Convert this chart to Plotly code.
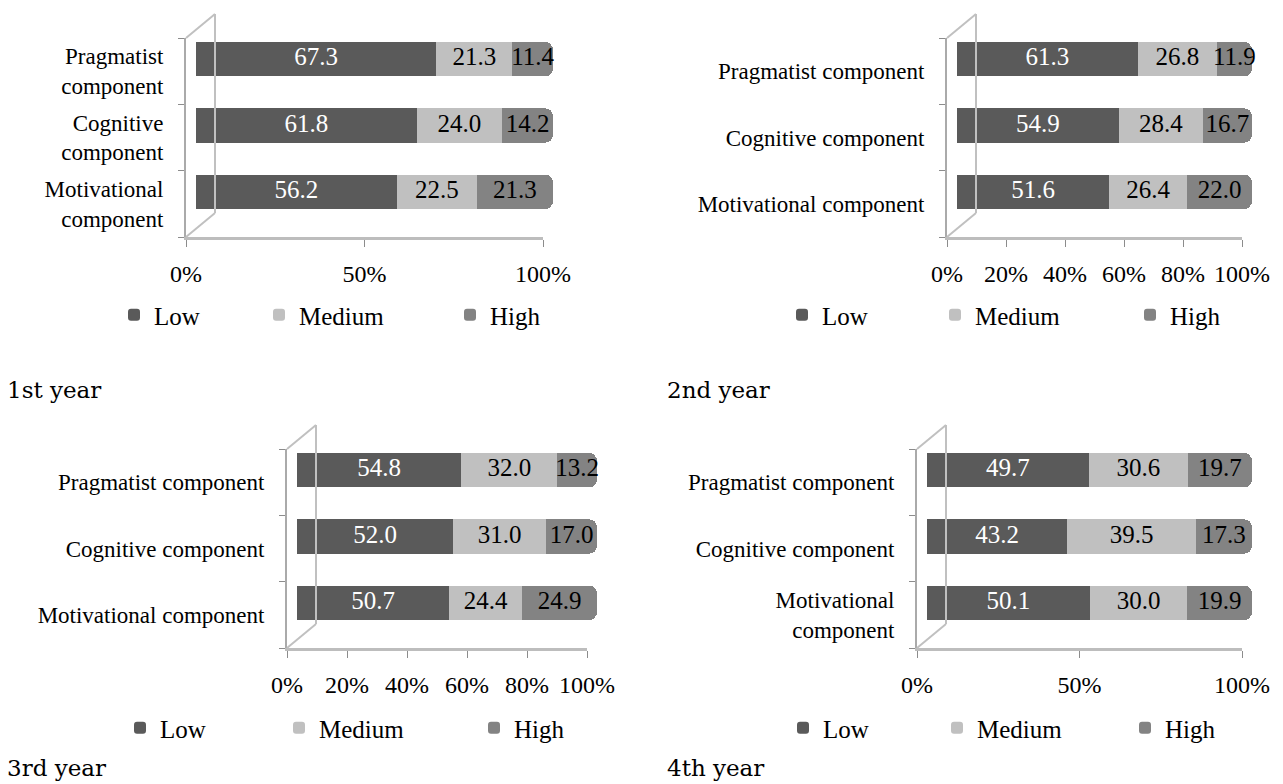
import plotly.graph_objects as go

# the page body adds an 8px margin, so the figure is drawn 8px smaller and
# every reference pixel position is converted with that offset
OFF = 8
W, H = 1283 - OFF, 784 - OFF


def px_x(x):
    return (x - OFF) / W


def px_y(y):
    return 1 - (y - OFF) / H


categories = ["Motivational component", "Cognitive component", "Pragmatist component"]
series_names = ["Low", "Medium", "High"]

year1_low = [56.2, 61.8, 67.3]
year1_medium = [22.5, 24.0, 21.3]
year1_high = [21.3, 14.2, 11.4]

year2_low = [51.6, 54.9, 61.3]
year2_medium = [26.4, 28.4, 26.8]
year2_high = [22.0, 16.7, 11.9]

year3_low = [50.7, 52.0, 54.8]
year3_medium = [24.4, 31.0, 32.0]
year3_high = [24.9, 17.0, 13.2]

year4_low = [50.1, 43.2, 49.7]
year4_medium = [30.0, 39.5, 30.6]
year4_high = [19.9, 17.3, 19.7]

titles = ["1st year", "2nd year", "3rd year", "4th year"]

labels_p1 = ["Motivational<br>component", "Cognitive<br>component", "Pragmatist<br>component"]
labels_p2 = ["Motivational component", "Cognitive component", "Pragmatist component"]
labels_p3 = ["Motivational component", "Cognitive component", "Pragmatist component"]
labels_p4 = ["Motivational<br>component", "Cognitive component", "Pragmatist component"]

ticks_p1 = [0, 50, 100]
ticks_p2 = [0, 20, 40, 60, 80, 100]
ticks_p3 = [0, 20, 40, 60, 80, 100]
ticks_p4 = [0, 50, 100]

colors = ["#5a5a5a", "#c0c0c0", "#838383"]
text_colors = ["white", "black", "black"]

SERIF = "Liberation Serif"
FS_CAT = 23
FS_TICK = 24
FS_VAL = 25
FS_LEG = 25

# panel geometry in reference pixels: (x0%, x100%), (ytop, ybottom)
panels = [
    dict(px=(186, 543), py=(38, 237), data=(year1_low, year1_medium, year1_high),
         labels=labels_p1, ticks=ticks_p1, title_pos=(5, 390), legend_y=315,
         legend_x=114, lw=(100, 146, 60)),
    dict(px=(947, 1242), py=(38, 237), data=(year2_low, year2_medium, year2_high),
         labels=labels_p2, ticks=ticks_p2, title_pos=(665, 390), legend_y=315,
         legend_x=782, lw=(108, 150, 60)),
    dict(px=(287, 587), py=(449, 648), data=(year3_low, year3_medium, year3_high),
         labels=labels_p3, ticks=ticks_p3, title_pos=(5, 768), legend_y=728,
         legend_x=120, lw=(114, 150, 60)),
    dict(px=(917, 1242), py=(449, 648), data=(year4_low, year4_medium, year4_high),
         labels=labels_p4, ticks=ticks_p4, title_pos=(665, 768), legend_y=728,
         legend_x=783, lw=(109, 143, 60)),
]

DX, DY = 10, 12            # 3-D depth offset of the bars (px)
WALL_DX, WALL_DY = 29, 24  # depth of the back wall (px)
BAR_W = 0.52

fig = go.Figure()
layout = dict(
    template="none",
    width=W, height=H, margin=dict(l=0, r=0, t=0, b=0, autoexpand=False),
    paper_bgcolor="white", plot_bgcolor="rgba(0,0,0,0)",
    barmode="stack", barcornerradius=8,
    font=dict(family=SERIF, size=FS_CAT, color="black"),
)
shapes = []
annotations = []

for i, p in enumerate(panels):
    n = i + 1
    x0p, x100p = p["px"]
    ytp, ybp = p["py"]
    wpx = x100p - x0p
    hpx = ybp - ytp
    xdom = [px_x(x0p), px_x(x100p)]
    ydom = [px_y(ybp), px_y(ytp)]
    bxdom = [px_x(x0p + DX), px_x(x100p + DX)]
    bydom = [px_y(ybp - DY), px_y(ytp - DY)]
    sfx = "" if n == 1 else str(n)
    bs = str(n + 4)
    leg = "legend" if n == 1 else f"legend{n}"

    # visible floor axes (carry ticks and labels)
    layout[f"xaxis{sfx}"] = dict(
        domain=xdom, anchor=f"y{sfx}", range=[0, 100], automargin=False,
        tickmode="array", tickvals=p["ticks"], ticktext=[f"{t}%" for t in p["ticks"]],
        showline=True, linecolor="#bdbdbd", linewidth=3,
        ticks="outside", ticklen=7, tickcolor="#8c8c8c", tickwidth=1,
        showgrid=False, zeroline=False, ticklabelstandoff=6,
        tickfont=dict(family=SERIF, size=FS_TICK), fixedrange=True,
    )
    layout[f"yaxis{sfx}"] = dict(
        domain=ydom, anchor=f"x{sfx}", range=[-0.5, 2.5], automargin=False,
        tickmode="array", tickvals=[0, 1, 2], ticktext=p["labels"],
        showline=True, linecolor="#aaaaaa", linewidth=2,
        ticks="", showgrid=False, zeroline=False, ticklabelstandoff=16,
        minor=dict(tickmode="array", tickvals=[-0.5, 0.5, 1.5, 2.5], ticks="outside",
                   ticklen=6, tickcolor="#8c8c8c", tickwidth=1, showgrid=False),
        tickfont=dict(family=SERIF, size=FS_CAT), fixedrange=True,
    )
    fig.add_trace(go.Scatter(x=[], y=[], xaxis=f"x{sfx}", yaxis=f"y{sfx}",
                             showlegend=False, hoverinfo="skip"))

    # hidden axes carrying the bars, shifted by the 3-D depth
    layout[f"xaxis{bs}"] = dict(
        domain=bxdom, anchor=f"y{bs}", range=[0, 100], visible=False,
        automargin=False, fixedrange=True,
    )
    layout[f"yaxis{bs}"] = dict(
        domain=bydom, anchor=f"x{bs}", type="category",
        categoryorder="array", categoryarray=categories, range=[-0.5, 2.5],
        visible=False, automargin=False, fixedrange=True,
    )

    cum = [0.0] * len(categories)
    for k, vals in enumerate(p["data"]):
        fig.add_trace(go.Bar(
            y=categories, x=vals, orientation="h", name=series_names[k],
            xaxis=f"x{bs}", yaxis=f"y{bs}", width=BAR_W,
            marker=dict(color=colors[k], line=dict(width=0)),
            textposition="none", legend=leg, legendwidth=p["lw"][k],
            hoverinfo="skip",
        ))
        mids = [c + v / 2 for c, v in zip(cum, vals)]
        cum = [c + v for c, v in zip(cum, vals)]
        fig.add_trace(go.Scatter(
            y=categories, x=mids, mode="text", text=[f"{v:.1f}" for v in vals],
            textposition="middle center", xaxis=f"x{bs}", yaxis=f"y{bs}",
            textfont=dict(family=SERIF, size=FS_VAL, color=text_colors[k]),
            cliponaxis=False, showlegend=False, hoverinfo="skip",
        ))

    layout[leg] = dict(
        orientation="h", x=px_x(p["legend_x"]), xanchor="left",
        y=px_y(p["legend_y"]), yanchor="middle",
        font=dict(family=SERIF, size=FS_LEG), bgcolor="rgba(0,0,0,0)",
        itemwidth=30, traceorder="normal", itemclick=False, itemdoubleclick=False,
    )

    # back wall (3-D frame lines)
    xr, yr = f"x{sfx} domain", f"y{sfx} domain"
    wdx = WALL_DX / wpx
    wdy = WALL_DY / hpx
    line = dict(color="#c0c0c0", width=2)
    shapes.append(dict(type="line", xref=xr, yref=yr, x0=0, y0=1, x1=wdx, y1=1 + wdy, line=line))
    shapes.append(dict(type="line", xref=xr, yref=yr, x0=wdx, y0=1 + wdy, x1=wdx, y1=wdy, line=line))
    shapes.append(dict(type="line", xref=xr, yref=yr, x0=0, y0=0, x1=wdx, y1=wdy, line=line))

    tx, ty = p["title_pos"]
    annotations.append(dict(
        text=titles[i], xref="paper", yref="paper", x=px_x(tx), y=px_y(ty),
        xanchor="left", yanchor="middle", showarrow=False,
        font=dict(family="DejaVu Serif", size=23, color="black"),
    ))

layout["shapes"] = shapes
layout["annotations"] = annotations
fig.update_layout(**layout)

fig.write_html("out.html")
